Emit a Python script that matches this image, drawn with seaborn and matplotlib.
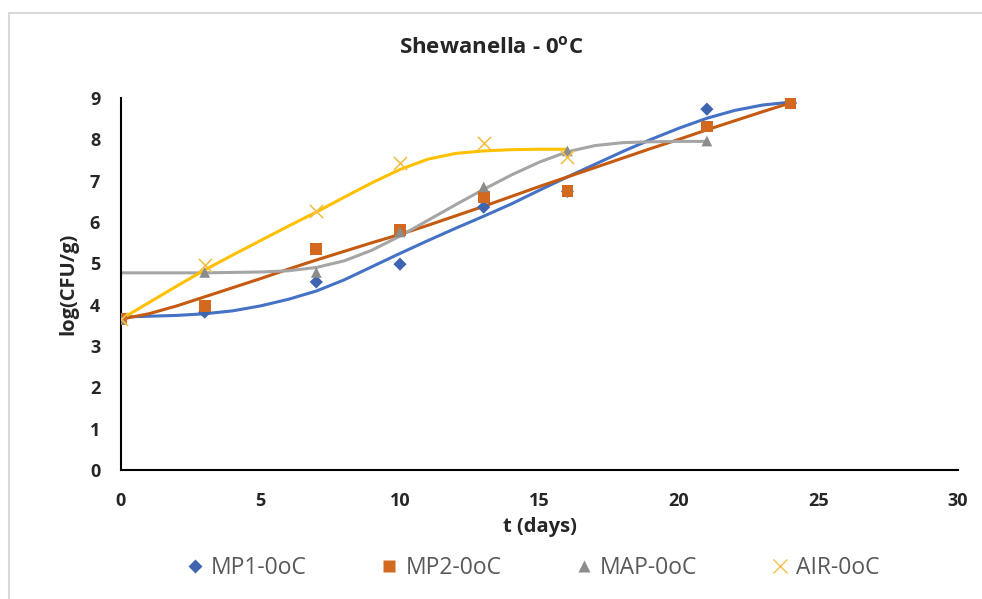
import numpy as np
import pandas as pd
import matplotlib.pyplot as plt
import seaborn as sns
from matplotlib.lines import Line2D

# Measured points (t in days, log CFU/g)
days = [0, 3, 7, 10, 13, 16, 21, 24]
mp1 = [3.65, 3.82, 4.55, 4.98, 6.36, 6.74, 8.73, 8.88]
mp2 = [3.65, 3.97, 5.35, 5.81, 6.6, 6.75, 8.31, 8.88]
map_days = [0, 3, 7, 10, 13, 16, 21]
map_ = [3.65, 4.78, 4.78, 5.76, 6.85, 7.72, 7.96]
air_days = [0, 3, 7, 10, 13, 16]
air = [3.65, 4.96, 6.26, 7.43, 7.91, 7.57]

# Fitted curves
fit_days = list(range(0, 25))
mp1_fit = [3.70, 3.72, 3.74, 3.78, 3.85, 3.97, 4.13, 4.33, 4.60, 4.92, 5.24, 5.55, 5.85,
           6.14, 6.44, 6.77, 7.09, 7.40, 7.71, 8.00, 8.27, 8.51, 8.70, 8.83, 8.90]
mp2_fit = [3.65, 3.78, 3.97, 4.19, 4.41, 4.63, 4.86, 5.08, 5.29, 5.50, 5.70, 5.92, 6.15,
           6.38, 6.62, 6.86, 7.09, 7.32, 7.55, 7.78, 8.00, 8.23, 8.45, 8.67, 8.88]
map_fit = [4.77, 4.77, 4.77, 4.77, 4.78, 4.79, 4.82, 4.90, 5.06, 5.32, 5.66, 6.04, 6.42,
           6.79, 7.14, 7.45, 7.70, 7.85, 7.92, 7.94, 7.95, 7.95]
air_fit = [3.65, 4.05, 4.45, 4.84, 5.20, 5.55, 5.90, 6.24, 6.60, 6.95, 7.27, 7.52, 7.66,
           7.72, 7.75, 7.76, 7.76]

names = ['MP1-0oC', 'MP2-0oC', 'MAP-0oC', 'AIR-0oC']
line_cols = ['#4472C4', '#C55A11', '#A5A5A5', '#FFC000']
mark_cols = ['#3F65B0', '#D2691E', '#8C8C8C', '#F2C04A']
markers = ['D', 's', '^', 'x']
msizes = [45, 70, 60, 90]

sns.set_style('white')
plt.rcParams['font.family'] = ['Open Sans', 'DejaVu Sans']
plt.rcParams['mathtext.fontset'] = 'custom'
plt.rcParams['mathtext.bf'] = 'Open Sans:bold'

fig = plt.figure(figsize=(9.82, 5.99), dpi=100)
ax = fig.add_axes([121 / 982, 1 - 470 / 599, 837 / 982, 372 / 599])

fits = [(fit_days, mp1_fit), (fit_days, mp2_fit), (fit_days[:len(map_fit)], map_fit),
        (fit_days[:len(air_fit)], air_fit)]
pts = [(days, mp1), (days, mp2), (map_days, map_), (air_days, air)]

for i in range(4):
    fx, fy = fits[i]
    sns.lineplot(x=fx, y=fy, ax=ax, color=line_cols[i], lw=2.2, zorder=2)
for i in range(4):
    px, py = pts[i]
    df = pd.DataFrame({'t': px, 'v': py})
    if markers[i] == 'x':
        sns.scatterplot(data=df, x='t', y='v', ax=ax, marker='x', s=msizes[i],
                        color=mark_cols[i], linewidth=1.2, zorder=3)
    else:
        sns.scatterplot(data=df, x='t', y='v', ax=ax, marker=markers[i], s=msizes[i],
                        color=mark_cols[i], edgecolor='none', zorder=3)

ax.set_xlim(0, 30)
ax.set_ylim(0, 9)
ax.set_xticks(range(0, 31, 5))
ax.set_yticks(range(0, 10))
for s in ['top', 'right']:
    ax.spines[s].set_visible(False)
for s in ['left', 'bottom']:
    ax.spines[s].set_color('black')
    ax.spines[s].set_linewidth(1.5)
ax.tick_params(axis='x', length=0, pad=16, labelsize=13)
ax.tick_params(axis='y', length=0, pad=15, labelsize=13)
for lab in ax.get_xticklabels() + ax.get_yticklabels():
    lab.set_fontweight('bold')
ax.set_xlabel('t (days)', fontsize=14.5, fontweight='bold', labelpad=5)
ax.set_ylabel('log(CFU/g)', fontsize=14.5, fontweight='bold', labelpad=8)

fig.text(0.5, 1 - 47 / 599, r'Shewanella - 0$^{\mathbf{o}}$C', ha='center', va='center',
         fontsize=16, fontweight='bold')

handles = []
for i in range(4):
    if markers[i] == 'x':
        h = Line2D([], [], ls='none', marker='x', color=mark_cols[i], markersize=10, mew=1.0)
    else:
        h = Line2D([], [], ls='none', marker=markers[i], color=mark_cols[i],
                   markersize=8.5 if markers[i] != 'D' else 7, mec='none')
    handles.append(h)
fig.legend(handles, names, loc='center', bbox_to_anchor=(0.54, 1 - 568 / 599), ncol=4,
           frameon=False, fontsize=16.5, labelcolor='#595959', columnspacing=3.0,
           handletextpad=0.1, handlelength=1.2)

# chart border
fig.add_artist(plt.Line2D([9 / 982, 9 / 982], [0, 1 - 13 / 599], transform=fig.transFigure,
                          color='#D9D9D9', lw=1.5))
fig.add_artist(plt.Line2D([9 / 982, 1], [1 - 13 / 599, 1 - 13 / 599], transform=fig.transFigure,
                          color='#D9D9D9', lw=1.5))

fig.savefig('out.png', dpi=100)
